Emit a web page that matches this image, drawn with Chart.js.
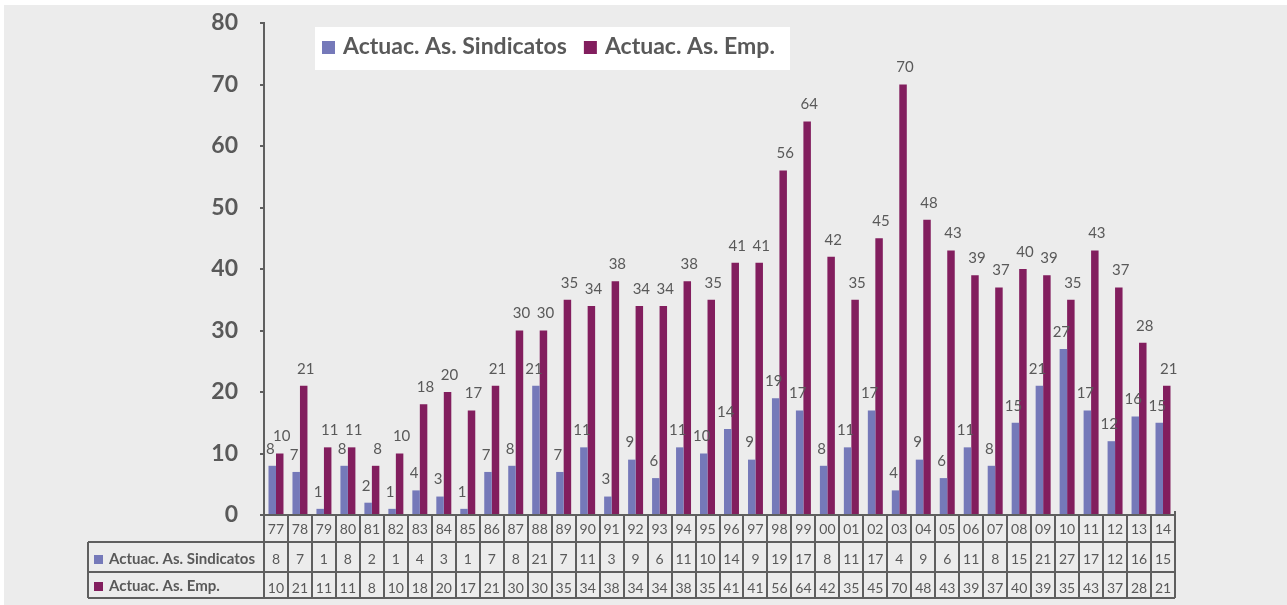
<!DOCTYPE html>
<html>
<head>
<meta charset="utf-8">
<script src="https://cdn.jsdelivr.net/npm/chart.js@4.4.1/dist/chart.umd.min.js"></script>
<style>
  html, body { margin: 0; padding: 0; background: #ffffff; }
  #wrap { position: absolute; left: 0; top: 0; width: 1287px; height: 605px; overflow: hidden; }
  #bg { position: absolute; left: 4px; top: 5px; right: 0; bottom: 0; background: #ececec; }
  #c { position: absolute; left: 0; top: 0; }
</style>
</head>
<body>
<div id="wrap">
  <div id="bg"></div>
  <canvas id="c" width="1287" height="605"></canvas>
</div>
<script>
// Years (two-digit), 1977-2014
const years = ['77','78','79','80','81','82','83','84','85','86',
               '87','88','89','90','91','92','93','94','95','96',
               '97','98','99','00','01','02','03','04','05','06',
               '07','08','09','10','11','12','13','14'];

// Actuaciones de asociaciones sindicales
const sindicatos = [8, 7, 1, 8, 2, 1, 4, 3, 1, 7,
                    8, 21, 7, 11, 3, 9, 6, 11, 10, 14,
                    9, 19, 17, 8, 11, 17, 4, 9, 6, 11,
                    8, 15, 21, 27, 17, 12, 16, 15];

// Actuaciones de asociaciones empresariales
const empresariales = [10, 21, 11, 11, 8, 10, 18, 20, 17, 21,
                       30, 30, 35, 34, 38, 34, 34, 38, 35, 41,
                       41, 56, 64, 42, 35, 45, 70, 48, 43, 39,
                       37, 40, 39, 35, 43, 37, 28, 21];

const seriesNames = ['Actuac. As. Sindicatos', 'Actuac. As. Emp.'];
const seriesColors = ['#7579b9', '#821e5e'];

const yMin = 0, yMax = 80, yStep = 10;

const TEXT = '#595959';
const LINE = '#5f5f5f';
const FONT = 'Lato';

Chart.defaults.font.family = FONT;

// Value labels above each bar
const valueLabels = {
  id: 'valueLabels',
  afterDatasetsDraw(chart) {
    const ctx = chart.ctx;
    ctx.save();
    ctx.fillStyle = TEXT;
    ctx.font = '15px ' + FONT;
    ctx.textAlign = 'center';
    ctx.textBaseline = 'middle';
    chart.data.datasets.forEach((ds, di) => {
      const meta = chart.getDatasetMeta(di);
      const shift = di === 0 ? -2 : 2;
      meta.data.forEach((bar, i) => {
        ctx.fillText(String(ds.data[i]), bar.x + shift, bar.y - 17);
      });
    });
    ctx.restore();
  }
};

// Legend box inside the plot area
const legendBox = {
  id: 'legendBox',
  afterDraw(chart) {
    const ctx = chart.ctx;
    const a = chart.chartArea;
    const x0 = a.left + 51, y0 = a.top + 4;
    ctx.save();
    ctx.fillStyle = '#ffffff';
    ctx.fillRect(x0, y0, 475, 43);
    ctx.font = 'bold 23px ' + FONT;
    ctx.textBaseline = 'middle';
    let x = x0 + 7;
    const cy = y0 + 20;
    seriesNames.forEach((name, i) => {
      ctx.fillStyle = seriesColors[i];
      ctx.fillRect(x, cy - 6, 13, 13);
      ctx.fillStyle = TEXT;
      ctx.fillText(name, x + 21, cy);
      x += 21 + ctx.measureText(name).width + 17;
    });
    ctx.restore();
  }
};

// Data table under the category axis
const dataTable = {
  id: 'dataTable',
  afterDraw(chart) {
    const ctx = chart.ctx;
    const xs = chart.scales.x;
    const a = chart.chartArea;
    const n = years.length;
    const w = (a.right - a.left) / n;
    const yAxis = a.bottom;
    const r1 = yAxis + 27, r2 = r1 + 30, r3 = r2 + 26;
    const tableLeft = 88;

    ctx.save();
    ctx.strokeStyle = LINE;
    ctx.lineWidth = 2;
    ctx.beginPath();
    // horizontal rules
    ctx.moveTo(a.left, yAxis); ctx.lineTo(a.right, yAxis);
    [r1, r2, r3].forEach(y => { ctx.moveTo(tableLeft, y); ctx.lineTo(a.right, y); });
    // left border of label column
    ctx.moveTo(tableLeft, r1); ctx.lineTo(tableLeft, r3);
    // category separators
    for (let i = 0; i <= n; i++) {
      const x = Math.round(a.left + i * w);
      ctx.moveTo(x, yAxis - (i === n ? 4 : 0)); ctx.lineTo(x, r3);
    }
    ctx.stroke();

    ctx.fillStyle = TEXT;
    ctx.textAlign = 'center';
    ctx.textBaseline = 'middle';
    ctx.font = '14px ' + FONT;
    years.forEach((yr, i) => {
      const cx = xs.getPixelForValue(i);
      ctx.fillText(yr, cx, (yAxis + r1) / 2 + 1);
      ctx.fillText(String(sindicatos[i]), cx, (r1 + r2) / 2 + 2);
      ctx.fillText(String(empresariales[i]), cx, (r2 + r3) / 2 + 3);
    });

    // row headers
    ctx.textAlign = 'left';
    ctx.font = 'bold 15px ' + FONT;
    const rows = [[(r1 + r2) / 2 + 2, 0], [(r2 + r3) / 2 + 1, 1]];
    rows.forEach(([cy, si]) => {
      ctx.fillStyle = seriesColors[si];
      ctx.fillRect(94, cy - 4, 9, 9);
      ctx.fillStyle = TEXT;
      ctx.fillText(seriesNames[si], 109, cy);
    });
    ctx.restore();
  }
};

new Chart(document.getElementById('c'), {
  type: 'bar',
  data: {
    labels: years,
    datasets: [
      { label: seriesNames[0], data: sindicatos, backgroundColor: seriesColors[0] },
      { label: seriesNames[1], data: empresariales, backgroundColor: seriesColors[1] }
    ]
  },
  options: {
    responsive: false,
    devicePixelRatio: 1,
    animation: false,
    events: [],
    layout: { padding: { top: 23, right: 112, bottom: 90, left: 0 } },
    datasets: { bar: { categoryPercentage: 0.625, barPercentage: 1.0 } },
    plugins: { legend: { display: false }, tooltip: { enabled: false } },
    scales: {
      x: { display: false },
      y: {
        min: yMin, max: yMax,
        afterFit(scale) {
          scale.width = 264;
          scale.paddingTop = 0;
          scale.paddingBottom = 0;
        },
        ticks: {
          stepSize: yStep,
          color: TEXT,
          padding: 22,
          font: { size: 23, weight: 'bold', family: FONT }
        },
        grid: { drawOnChartArea: false, drawTicks: true, tickLength: 4, color: LINE, lineWidth: 2 },
        border: { display: true, color: LINE, width: 2 }
      }
    }
  },
  plugins: [valueLabels, legendBox, dataTable]
});
</script>
</body>
</html>
